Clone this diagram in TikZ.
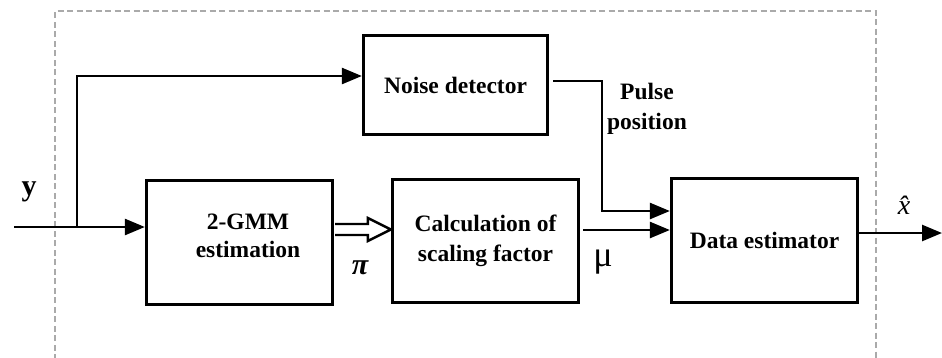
\documentclass[tikz,border=0pt]{standalone}
\usepackage{fontspec}
\setmainfont{Liberation Serif}
\usetikzlibrary{arrows.meta,calc}
\begin{document}
\begin{tikzpicture}[x=1pt,y=-1pt,
  blockbox/.style={draw=black,line width=3.3pt,fill=white,minimum width=#1,inner sep=0pt,align=center,
    font=\fontsize{23.5}{30}\selectfont\bfseries},
  conn/.style={line width=2.6pt,-{Triangle[length=20pt,width=16pt]}},
  plain/.style={line width=2.6pt},
  hollow/.style={draw=black,line width=2.4pt,fill=white,line join=miter},
  frame/.style={draw={rgb,255:red,170;green,170;blue,170},line width=1.2pt,dash pattern=on 6pt off 3.5pt},
  lbl/.style={inner sep=0pt}]
\useasboundingbox (0,0) rectangle (942,357);
% dashed frame
\draw[frame] (55,360) -- (55,11) -- (876,11) -- (876,360);
% blocks
\node[blockbox=184pt,minimum height=99pt] (noise) at (455.5,85) {Noise detector};
\node[blockbox=186pt,minimum height=124pt] (gmm) at (239.5,242.5) {};
\node[lbl,align=center,font=\fontsize{23.5}{28}\selectfont\bfseries] (gmmtxt) at (248,236) {2-GMM\\estimation};
\node[blockbox=186pt,minimum height=123pt] (calc) at (485.5,241) {Calculation of\\scaling factor};
\node[blockbox=186pt,minimum height=124pt] (data) at (764.5,240.5) {Data estimator};
% input
\coordinate (in) at (14,227);
\coordinate (br) at (77,227);
\coordinate (ya) at (0,76);
\draw[plain] (in) -- (br);
\draw[conn] (br) -- (in -| gmm.west);
\draw[conn] (br) |- (noise.west |- ya);
% noise detector -> data estimator
\coordinate (yb) at (0,81);
\coordinate (yc) at (0,211);
\coordinate (xc) at (602,0);
\draw[conn] ($(noise.east |- yb)+(4,0)$) -| (xc |- yc) -- (data.west |- yc);
% calc -> data
\coordinate (yd) at (0,230);
\draw[conn] ($(calc.east |- yd)+(3,0)$) -- (data.west |- yd);
% data -> output
\coordinate (ye) at (0,233);
\coordinate (out) at (942,233);
\draw[conn] (data.east |- ye) -- (out);
% hollow arrow gmm -> calc
\coordinate (yp) at (0,229.5);
\coordinate (hs) at ($(gmm.east |- yp)+(1,0)$);
\coordinate (ht) at (calc.west |- yp);
\draw[hollow] ($(hs)+(0,-5.5)$) -- ($(ht)+(-23,-5.5)$) -- ($(ht)+(-23,-11.5)$) -- (ht)
  -- ($(ht)+(-23,11.5)$) -- ($(ht)+(-23,5.5)$) -- ($(hs)+(0,5.5)$);
% labels
\node[lbl,font=\fontsize{30}{30}\selectfont\bfseries] (ylab) at (29,192) {y};
\node[lbl,font=\fontsize{30}{30}\selectfont\bfseries\itshape] (pilab) at (360,268) {π};
\node[lbl,font=\fontsize{36}{36}\selectfont] (mulab) at (603,262) {μ};
\node[lbl,font=\fontsize{28}{30}\selectfont\itshape] (xlab) at (904,205) {\^{x}};
\node[lbl,align=center,font=\fontsize{23.5}{30}\selectfont\bfseries] (pulse) at (647,109) {Pulse\\position};
\end{tikzpicture}
\end{document}
